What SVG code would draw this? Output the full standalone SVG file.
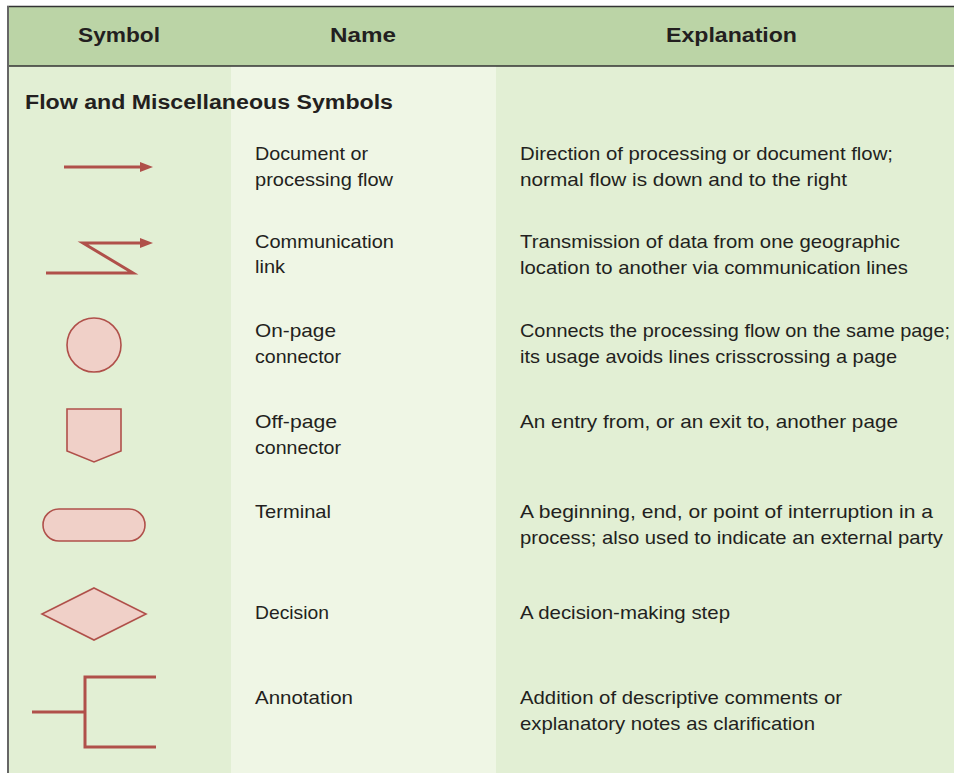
<svg xmlns="http://www.w3.org/2000/svg" width="954" height="773" viewBox="0 0 954 773">
  <defs>
    <style>
      .hdr { font-family: "Liberation Sans", Arial, sans-serif; font-weight: bold; font-size: 21px; fill: #231f20; }
      .sec { font-family: "Liberation Sans", Arial, sans-serif; font-weight: bold; font-size: 20px; fill: #231f20; }
      .txt { font-family: "Liberation Sans", Arial, sans-serif; font-size: 19px; fill: #231f20; }
      .ln { fill: none; stroke: #b0504a; stroke-width: 3; }
      .shape { fill: #f0d0c8; stroke: #b0504a; stroke-width: 1.6; }
    </style>
    <marker id="arrow" viewBox="0 0 13 10" refX="0" refY="5" markerWidth="13" markerHeight="10" markerUnits="userSpaceOnUse" orient="auto">
      <path d="M0,0 L13,5 L0,10 Z" fill="#b0504a"/>
    </marker>
  </defs>

  <!-- table background -->
  <rect x="0" y="0" width="954" height="773" fill="#ffffff"/>
  <rect x="8" y="7" width="946" height="59" fill="#bbd4a6"/>
  <rect x="8" y="66" width="223" height="707" fill="#e2efd4"/>
  <rect x="231" y="66" width="265" height="707" fill="#eff6e5"/>
  <rect x="496" y="66" width="458" height="707" fill="#e2efd4"/>
  <line x1="7" y1="6.5" x2="954" y2="6.5" stroke="#333" stroke-width="1.6"/>
  <line x1="7" y1="66" x2="954" y2="66" stroke="#333" stroke-width="1.6"/>
  <line x1="8" y1="6" x2="8" y2="773" stroke="#666" stroke-width="2"/>

  <!-- header -->
  <g id="header">
    <text class="hdr" x="78" y="42" textLength="82" lengthAdjust="spacingAndGlyphs">Symbol</text>
    <text class="hdr" x="330" y="42" textLength="66" lengthAdjust="spacingAndGlyphs">Name</text>
    <text class="hdr" x="666" y="42" textLength="131" lengthAdjust="spacingAndGlyphs">Explanation</text>
  </g>

  <text class="sec" x="25" y="109" textLength="368" lengthAdjust="spacingAndGlyphs">Flow and Miscellaneous Symbols</text>

  <!-- symbols -->
  <g id="flow-arrow">
    <line class="ln" x1="64" y1="167" x2="140" y2="167" marker-end="url(#arrow)"/>
  </g>
  <g id="comm-link">
    <polyline class="ln" points="46,273 133,273 83,243 140,243" marker-end="url(#arrow)"/>
  </g>
  <g id="on-page">
    <circle class="shape" cx="94" cy="345" r="27"/>
  </g>
  <g id="off-page">
    <polygon class="shape" points="67,409 121,409 121,451 94,462 67,451"/>
  </g>
  <g id="terminal">
    <rect class="shape" x="43" y="509" width="102" height="32" rx="16" ry="16"/>
  </g>
  <g id="decision">
    <polygon class="shape" points="94,588 146,614 94,640 42,614"/>
  </g>
  <g id="annotation">
    <line class="ln" x1="32" y1="712" x2="85" y2="712" stroke-width="2.6"/>
    <polyline class="ln" points="156,677 85,677 85,747 156,747"/>
  </g>

  <!-- names -->
  <g id="names">
    <text class="txt" x="255" y="160" textLength="113" lengthAdjust="spacingAndGlyphs">Document or</text>
    <text class="txt" x="255" y="186" textLength="138" lengthAdjust="spacingAndGlyphs">processing flow</text>
    <text class="txt" x="255" y="248" textLength="139" lengthAdjust="spacingAndGlyphs">Communication</text>
    <text class="txt" x="255" y="273" textLength="30" lengthAdjust="spacingAndGlyphs">link</text>
    <text class="txt" x="255" y="337" textLength="81" lengthAdjust="spacingAndGlyphs">On-page</text>
    <text class="txt" x="255" y="363" textLength="86" lengthAdjust="spacingAndGlyphs">connector</text>
    <text class="txt" x="255" y="428" textLength="82" lengthAdjust="spacingAndGlyphs">Off-page</text>
    <text class="txt" x="255" y="454" textLength="86" lengthAdjust="spacingAndGlyphs">connector</text>
    <text class="txt" x="255" y="518" textLength="76" lengthAdjust="spacingAndGlyphs">Terminal</text>
    <text class="txt" x="255" y="619" textLength="74" lengthAdjust="spacingAndGlyphs">Decision</text>
    <text class="txt" x="255" y="704" textLength="98" lengthAdjust="spacingAndGlyphs">Annotation</text>
  </g>

  <!-- explanations -->
  <g id="explanations">
    <text class="txt" x="520" y="160" textLength="373" lengthAdjust="spacingAndGlyphs">Direction of processing or document flow;</text>
    <text class="txt" x="520" y="186" textLength="327" lengthAdjust="spacingAndGlyphs">normal flow is down and to the right</text>
    <text class="txt" x="520" y="248" textLength="380" lengthAdjust="spacingAndGlyphs">Transmission of data from one geographic</text>
    <text class="txt" x="520" y="274" textLength="388" lengthAdjust="spacingAndGlyphs">location to another via communication lines</text>
    <text class="txt" x="520" y="337" textLength="430" lengthAdjust="spacingAndGlyphs">Connects the processing flow on the same page;</text>
    <text class="txt" x="520" y="363" textLength="377" lengthAdjust="spacingAndGlyphs">its usage avoids lines crisscrossing a page</text>
    <text class="txt" x="520" y="428" textLength="378" lengthAdjust="spacingAndGlyphs">An entry from, or an exit to, another page</text>
    <text class="txt" x="520" y="518" textLength="413" lengthAdjust="spacingAndGlyphs">A beginning, end, or point of interruption in a</text>
    <text class="txt" x="520" y="544" textLength="423" lengthAdjust="spacingAndGlyphs">process; also used to indicate an external party</text>
    <text class="txt" x="520" y="619" textLength="210" lengthAdjust="spacingAndGlyphs">A decision-making step</text>
    <text class="txt" x="520" y="704" textLength="322" lengthAdjust="spacingAndGlyphs">Addition of descriptive comments or</text>
    <text class="txt" x="520" y="730" textLength="295" lengthAdjust="spacingAndGlyphs">explanatory notes as clarification</text>
  </g>
</svg>
